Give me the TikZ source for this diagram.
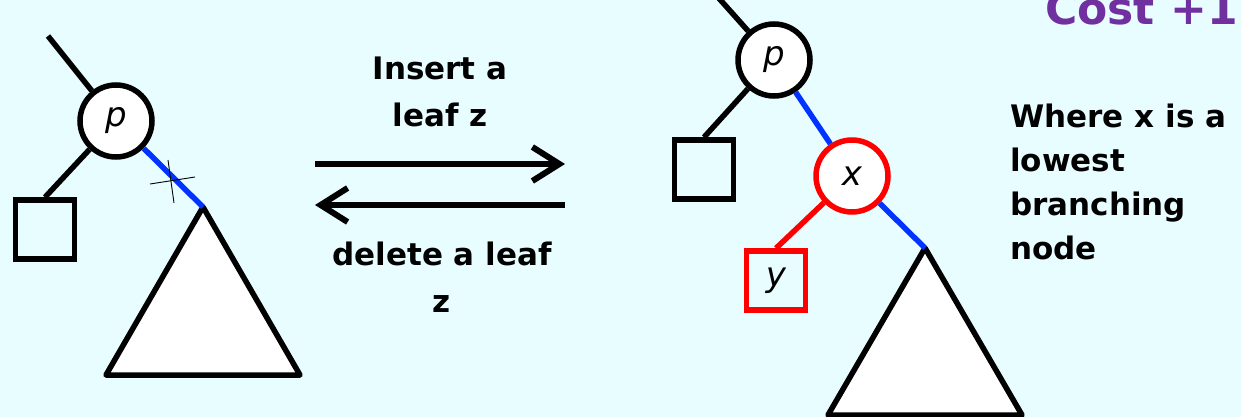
\documentclass[tikz,border=0pt]{standalone}
\usepackage{fontspec}
\setmainfont{DejaVu Sans}
\usetikzlibrary{arrows.meta}
\definecolor{bg}{RGB}{232,253,255}
\definecolor{edgeblue}{RGB}{0,51,255}
\definecolor{costpurple}{RGB}{112,48,160}
\begin{document}
\begin{tikzpicture}[x=1pt,y=-1pt,
  treeline/.style={line width=5.5pt},
  circnode/.style={circle,draw,fill=white,line width=5.5pt,minimum size=72pt,inner sep=0pt,font=\fontsize{34}{34}\selectfont\itshape},
  sqnode/.style={rectangle,draw,line width=5.5pt,minimum size=59pt,inner sep=0pt,font=\fontsize{34}{34}\selectfont\itshape},
  subtree/.style={draw,fill=white,line width=5.5pt,line join=round},
  label/.style={inner sep=0pt,font=\bfseries\fontsize{31}{47}\selectfont,align=center},
  bigarrow/.style={line width=6pt,-{Straight Barb[length=27pt,width=34pt]}},
  cross/.style={line width=0.9pt}
]
\fill[bg] (0,0) rectangle (1241,417);
\useasboundingbox (0,0) rectangle (1241,417);

% ---------- left tree ----------
\coordinate (ltop) at (48,36);
\node[circnode] (lp) at (116,121) {p};
\node[sqnode] (lsq) at (45,229.5) {};
\coordinate (lapex) at (203,207);
\draw[subtree] (lapex) -- (106,375) -- (300,375) -- cycle;
\draw[treeline] (ltop) -- (lp);
\draw[treeline] (lp) -- (lsq.north);
\draw[treeline,edgeblue] (lp) -- (lapex);
\draw[cross] (150,184) -- (195,177);
\draw[cross] (168,160) -- (174,203);

% ---------- arrows ----------
\coordinate (a1) at (315,164);
\coordinate (a2) at (565,164);
\coordinate (b1) at (565,205);
\coordinate (b2) at (315,205);
\draw[bigarrow] (a1) -- (a2);
\draw[bigarrow] (b1) -- (b2);
\node[label,anchor=north] (ins) at (440,57) {Insert a\\leaf z};
\node[label,anchor=north] (del) at (442,242) {delete a leaf\\z};

% ---------- right tree ----------
\coordinate (rtop) at (716,-5);
\node[circnode] (rp) at (774,60) {p};
\node[sqnode] (rsq) at (704,169.5) {};
\node[circnode,draw=red] (rx) at (852,176) {x};
\node[sqnode,draw=red] (ry) at (776,280.5) {y};
\coordinate (rapex) at (925,248);
\draw[subtree] (rapex) -- (828,415) -- (1022,415) -- cycle;
\draw[treeline] (rtop) -- (rp);
\draw[treeline] (rp) -- (rsq.north);
\draw[treeline,edgeblue] (rp) -- (rx);
\draw[treeline,red] (rx) -- (ry.north);
\draw[treeline,edgeblue] (rx) -- (rapex);

% ---------- notes ----------
\node[inner sep=0pt,font=\bfseries\fontsize{31}{44}\selectfont,align=left,anchor=north west] (note) at (1010,104) {Where x is a\\lowest\\branching\\node};
\node[inner sep=0pt,font=\bfseries\fontsize{44}{44}\selectfont,text=costpurple,anchor=base west] (cost) at (1045,25) {Cost +1};
\end{tikzpicture}
\end{document}
